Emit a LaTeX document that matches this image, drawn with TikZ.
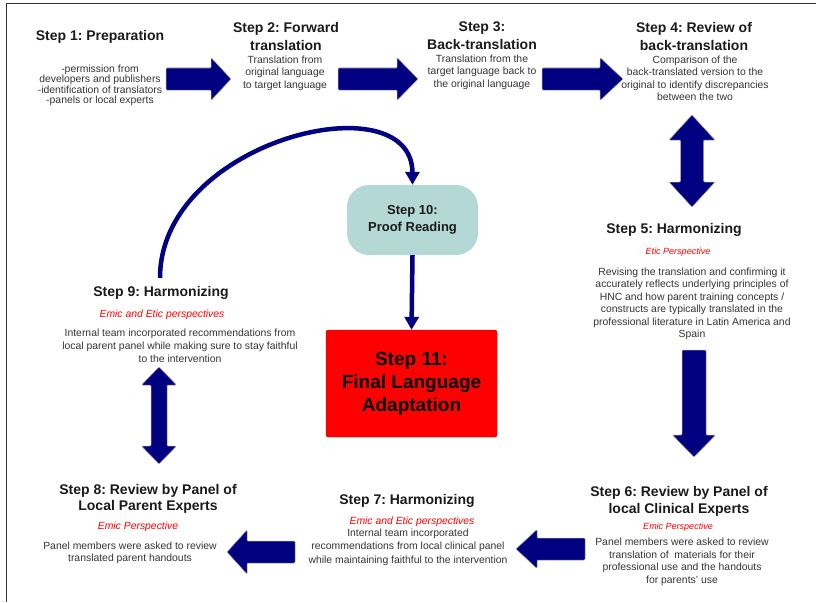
\documentclass[tikz,border=0pt]{standalone}
\usepackage{fontspec}
\setmainfont{Liberation Sans}
\usetikzlibrary{arrows.meta}
\frenchspacing
\definecolor{navy}{HTML}{000080}
\definecolor{tealbox}{HTML}{B4D8D6}
\definecolor{titlecol}{HTML}{1A1A1A}
\definecolor{bodycol}{HTML}{333333}
\newcommand\BArrowR[6]{\filldraw[blk] (#1,#3-#4) -- (#2-#6,#3-#4) -- (#2-#6,#3-#5) -- (#2,#3) -- (#2-#6,#3+#5) -- (#2-#6,#3+#4) -- (#1,#3+#4) -- cycle;}
\newcommand\BArrowL[6]{\filldraw[blk] (#1,#3-#4) -- (#2+#6,#3-#4) -- (#2+#6,#3-#5) -- (#2,#3) -- (#2+#6,#3+#5) -- (#2+#6,#3+#4) -- (#1,#3+#4) -- cycle;}
\newcommand\BArrowD[6]{\filldraw[blk] (#1-#4,#2) -- (#1-#4,#3-#6) -- (#1-#5,#3-#6) -- (#1,#3) -- (#1+#5,#3-#6) -- (#1+#4,#3-#6) -- (#1+#4,#2) -- cycle;}
\newcommand\BArrowUD[6]{\filldraw[blk] (#1,#2) -- (#1+#5,#2+#6) -- (#1+#4,#2+#6) -- (#1+#4,#3-#6) -- (#1+#5,#3-#6) -- (#1,#3) -- (#1-#5,#3-#6) -- (#1-#4,#3-#6) -- (#1-#4,#2+#6) -- (#1-#5,#2+#6) -- cycle;}
\begin{document}
\begin{tikzpicture}[x=1pt,y=-1pt,
  title/.style={font=\fontsize{14}{18}\selectfont\bfseries, align=center, inner sep=0pt, text=titlecol},
  body/.style={font=\fontsize{10.4}{12.5}\selectfont, align=center, inner sep=0pt, text=bodycol},
  persp/.style={font=\fontsize{9}{11}\selectfont\itshape, inner sep=0pt, text=red},
  perspL/.style={persp, font=\fontsize{10.4}{12}\selectfont\itshape},
  blk/.style={fill=navy, draw=black!35, line width=0.5pt, rounded corners=1pt},
  conn/.style={draw=navy, line width=4.5pt, -{Triangle[length=13pt,width=14pt]}}]
\useasboundingbox (0,0) rectangle (816,602);
\draw[line width=0.8pt, black!80] (6,602) -- (6,3) -- (816,3);

% top row
\node[title] (s1t) at (100,37) {Step 1: Preparation};
\node[body, font=\fontsize{10.4}{9.5}\selectfont] (s1b) at (100,85) {-permission from\\developers and publishers\\-identification of translators\\-panels or local experts};
\node[title] (s2t) at (286,36) {Step 2: Forward\\translation};
\node[body] (s2b) at (285,73) {Translation from\\original language\\to target language};
\node[title] (s3t) at (482,36) {Step 3:\\Back-translation};
\node[body] (s3b) at (482,72) {Translation from the\\target language back to\\the original language};
\node[title] (s4t) at (694,36) {Step 4: Review of\\back-translation};
\node[body] (s4b) at (695,78.5) {Comparison of the\\back-translated version to the\\original to identify discrepancies\\between the two};

\BArrowR{166}{231}{79}{11}{21.5}{20}
\BArrowR{338}{418}{79}{11}{21.5}{21}
\BArrowR{542}{623}{79}{11}{21.5}{23}

% right column
\BArrowUD{692}{115}{207}{11.5}{23}{25}
\node[title] (s5t) at (674,230) {Step 5: Harmonizing};
\node[persp] (s5p) at (678,252) {Etic Perspective};
\node[body] (s5b) at (692,304) {Revising the translation and confirming it\\accurately reflects underlying principles of\\HNC and how parent training concepts /\\constructs are typically translated in the\\professional literature in Latin America and\\Spain};
\BArrowD{694}{350}{457}{12}{21.5}{22}

% bottom row
\node[title, font=\fontsize{14}{17}\selectfont\bfseries] (s6t) at (679,501.5) {Step 6: Review by Panel of\\local Clinical Experts};
\node[persp] (s6p) at (678,527) {Emic Perspective};
\node[body] (s6b) at (682,562) {Panel members were asked to review\\translation of\ \ materials for their\\professional use and the handouts\\for parents' use};
\BArrowL{585}{516}{549}{11}{19.5}{21}
\node[title] (s7t) at (407,501) {Step 7: Harmonizing};
\node[perspL] (s7p) at (412,522) {Emic and Etic perspectives};
\node[body, font=\fontsize{10.4}{13.5}\selectfont] (s7b) at (408,547) {Internal team incorporated\\recommendations from local clinical panel\\while maintaining faithful to the intervention};
\BArrowL{295}{227}{552}{11}{22}{20}
\node[title, font=\fontsize{14}{16}\selectfont\bfseries] (s8t) at (148,499) {Step 8: Review by Panel of\\Local Parent Experts};
\node[perspL] (s8p) at (138,527) {Emic Perspective};
\node[body] (s8b) at (130,553) {Panel members were asked to review\\translated parent handouts};

% left column
\BArrowUD{159}{367}{464}{8}{17.5}{18}
\node[title] (s9t) at (161,293) {Step 9: Harmonizing};
\node[perspL] (s9p) at (162,315) {Emic and Etic perspectives};
\node[body, font=\fontsize{10.4}{13}\selectfont] (s9b) at (180,346) {Internal team incorporated recommendations from\\local parent panel while making sure to stay faithful\\to the intervention};

% centre
\node[fill=tealbox, rounded corners=22pt, minimum width=131pt, minimum height=70pt, inner sep=0pt,
      font=\fontsize{13}{17}\selectfont\bfseries, align=center, text=titlecol] (s10) at (412.5,220) {Step 10:\\Proof Reading};
\node[fill=red, draw=red!80!black, line width=0.3pt, rounded corners=2pt, minimum width=171pt, minimum height=107pt, inner sep=0pt,
      font=\fontsize{19}{23}\selectfont\bfseries, align=center, text=black] (s11) at (411.5,383.5) {Step 11:\\Final Language\\Adaptation};
\coordinate (c9) at (160,278);
\draw[conn] (c9) .. controls (160,140) and (412,80) .. (s10.north);
\draw[conn] (s10.south) -- (s11.north);
\end{tikzpicture}
\end{document}
